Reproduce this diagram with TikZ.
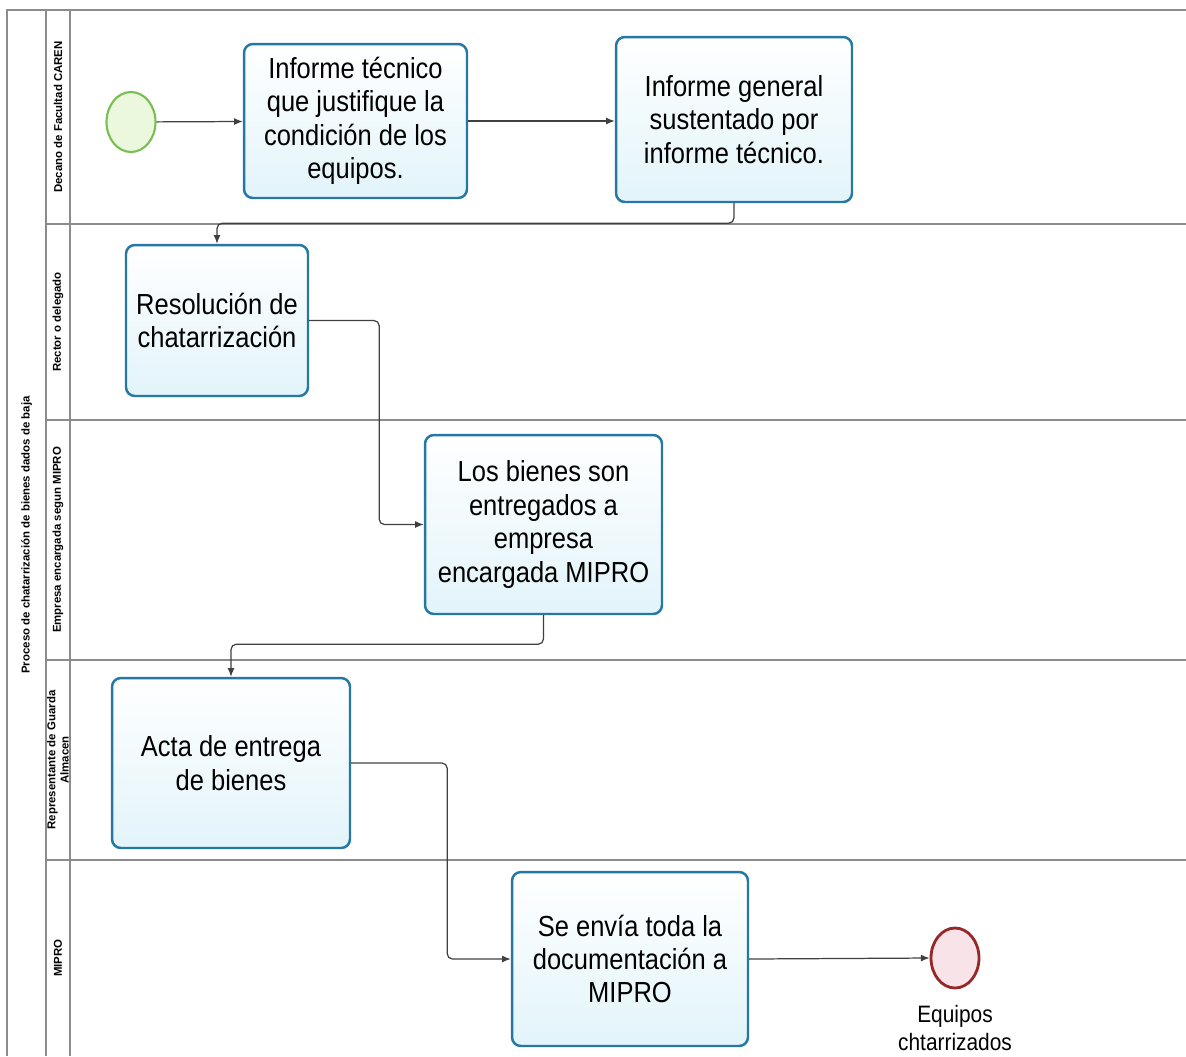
\documentclass[tikz,border=0pt]{standalone}
\usepackage{fontspec}
\setmainfont{Liberation Sans}
\newfontfamily\tareafont[FakeStretch=0.88]{Liberation Sans}
\usetikzlibrary{arrows.meta,shapes.geometric}

\definecolor{tareaborde}{RGB}{38,120,164}
\definecolor{tareafondo}{RGB}{226,244,250}
\definecolor{inicioborde}{RGB}{120,190,80}
\definecolor{iniciofondo}{RGB}{236,248,222}
\definecolor{finborde}{RGB}{150,40,40}
\definecolor{finfondo}{RGB}{248,228,232}
\definecolor{carril}{RGB}{140,140,140}

\tikzset{
    tarea/.style={draw=tareaborde, line width=1.4pt, rounded corners=5pt,
        top color=white, bottom color=tareafondo, align=center, inner sep=0pt,
        font=\tareafont\fontsize{16.5}{19}\selectfont},
    inicio/.style={ellipse, draw=inicioborde, line width=1.2pt, fill=iniciofondo,
        minimum width=0.98cm, minimum height=1.2cm, inner sep=0pt},
    fin/.style={ellipse, draw=finborde, line width=1.6pt, fill=finfondo,
        minimum width=0.96cm, minimum height=1.2cm, inner sep=0pt},
    carril/.style={draw=carril, line width=0.6pt},
    rotulo/.style={rotate=90, align=center, font=\bfseries\fontsize{6.5}{7.5}\selectfont},
    flujo/.style={draw=black!75, line width=0.7pt, rounded corners=3pt,
        -{Latex[length=5pt,width=4pt]}}
}

\begin{document}
\begin{tikzpicture}[x=0.02cm, y=-0.02cm]
    \useasboundingbox (0,0) rectangle (1186,1056);

    % pool y carriles
    \draw[carril] (1186,10) -- (7,10) -- (7,1056);
    \draw[carril] (46,10) -- (46,1056);
    \draw[carril] (70,10) -- (70,1056);
    \foreach \y in {224,420,660,860}
        \draw[carril] (46,\y) -- (1186,\y);

    \node[rotulo] (pool) at (26.5,535) {Proceso de chatarrización de bienes dados de baja};
    \node[rotulo] (l1) at (58,117) {Decano de Facultad CAREN};
    \node[rotulo] (l2) at (58,322) {Rector o delegado};
    \node[rotulo] (l3) at (58,540) {Empresa encargada segun MIPRO};
    \node[rotulo] (l4) at (58,760) {Representante de Guarda\\Almacen};
    \node[rotulo] (l5) at (58,958) {MIPRO};

    % tareas
    \node[inicio] (ini) at (131,122) {};
    \node[tarea, minimum width=4.46cm, minimum height=3.08cm] (t1) at (355.5,121)
        {Informe técnico\\que justifique la\\condición de los\\equipos.};
    \node[tarea, minimum width=4.72cm, minimum height=3.30cm] (t2) at (734,119.5)
        {Informe general\\sustentado por\\informe técnico.};
    \node[tarea, minimum width=3.64cm, minimum height=3.02cm] (t3) at (217,320.5)
        {Resolución de\\chatarrización};
    \node[tarea, minimum width=4.74cm, minimum height=3.58cm] (t4) at (543.5,524.5)
        {Los bienes son\\entregados a\\empresa\\encargada MIPRO};
    \node[tarea, minimum width=4.76cm, minimum height=3.40cm] (t5) at (231,763)
        {Acta de entrega\\de bienes};
    \node[tarea, minimum width=4.72cm, minimum height=3.48cm] (t6) at (630,959)
        {Se envía toda la\\documentación a\\MIPRO};
    \node[fin] (fin) at (955,958) {};
    \node[align=center, font=\tareafont\fontsize{13.5}{15.5}\selectfont] (finlbl) at (955,1028)
        {Equipos\\chtarrizados};

    % flujos
    \draw[flujo] (ini) -- (t1);
    \draw[flujo] (t1.east) -- (t1.east -| t2.west);
    \draw[flujo] (t2.south) -- ++(0,20) -| (t3.north);
    \draw[flujo] (t3.east) -- ++(70,0) |- (t4.west);
    \draw[flujo] (t4.south) -- ++(0,29) -| (t5.north);
    \draw[flujo] (t5.east) -- ++(96,0) |- (t6.west);
    \draw[flujo] (t6.east) -- (fin.west);
\end{tikzpicture}
\end{document}
